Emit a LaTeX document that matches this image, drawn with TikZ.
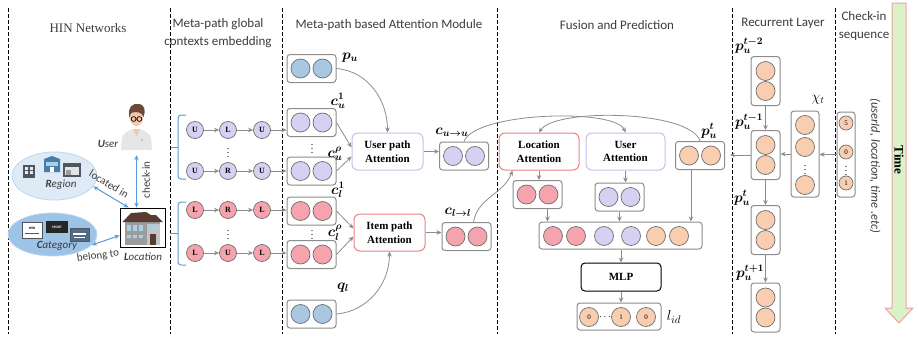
\documentclass[tikz,border=0pt]{standalone}
\usepackage{fontspec}
\usepackage{bm}
\setmainfont{Liberation Serif}
\setsansfont{Carlito}
\usetikzlibrary{arrows.meta,positioning,shapes.geometric}

\definecolor{pathblue}{HTML}{A9C6E3}
\definecolor{lav}{HTML}{D5D1F2}
\definecolor{pink}{HTML}{F5A3AC}
\definecolor{peach}{HTML}{F9CDB0}
\definecolor{unitgray}{HTML}{6E6E6E}
\definecolor{boxgray}{HTML}{8C8C8C}
\definecolor{linkblue}{HTML}{5B9BD5}
\definecolor{attuser}{HTML}{C6BFEC}
\definecolor{attitem}{HTML}{EE7F87}
\definecolor{timegreen}{HTML}{DAF2C8}
\definecolor{timered}{HTML}{F2A0A4}
\definecolor{titlegray}{HTML}{3C3C3C}
\definecolor{regionfill}{HTML}{DEEAF6}
\definecolor{regionedge}{HTML}{BDD7EE}
\definecolor{catfill}{HTML}{9DC3E6}
\definecolor{skin}{HTML}{F4C7A8}
\definecolor{hairbrown}{HTML}{6B4A3A}
\definecolor{coatgray}{HTML}{E4E6E8}
\definecolor{roofbrown}{HTML}{5A3B30}
\definecolor{wallgray}{HTML}{9A9DA0}
\definecolor{winblue}{HTML}{A8D2E2}
\definecolor{bldgdark}{HTML}{4F5660}

% two-unit embedding, side by side
\newcommand{\hvec}[3]{%
  \node[vecbox, minimum width=49pt, minimum height=28pt] (#1) at (#2) {};
  \node[unit, fill=#3] (#1a) at ([xshift=-11pt]#1.center) {};
  \node[unit, fill=#3] (#1b) at ([xshift=11pt]#1.center) {};}
% two-unit hidden state, stacked
\newcommand{\vvec}[2]{%
  \node[vecbox, minimum width=29pt, minimum height=49pt] (#1) at (#2) {};
  \node[unit, fill=peach] (#1a) at ([yshift=10pt]#1.center) {};
  \node[unit, fill=peach] (#1b) at ([yshift=-10pt]#1.center) {};}

\begin{document}
\begin{tikzpicture}[x=1pt, y=-1pt,
  every node/.style={inner sep=0pt},
  unit/.style={circle, draw=unitgray, line width=0.7pt, minimum size=19pt},
  mp/.style={circle, draw=unitgray, line width=0.7pt, minimum size=17pt, font=\bfseries\fontsize{8}{8}\selectfont},
  vecbox/.style={draw=boxgray, rounded corners=3pt, line width=1pt},
  attbox/.style={rounded corners=6pt, line width=1pt, align=center, minimum height=37pt, font=\bfseries\fontsize{11}{13.5}\selectfont},
  flow/.style={draw=boxgray, line width=0.8pt, -{Stealth[length=5pt,width=4.5pt]}},
  link/.style={draw=linkblue, line width=1pt, {Stealth[length=5pt,width=4.5pt]}-{Stealth[length=5pt,width=4.5pt]}},
  sect/.style={draw=black, line width=1pt, dash pattern=on 4pt off 2pt},
  coltitle/.style={font=\sffamily\fontsize{13}{18}\selectfont, align=center, text=titlegray},
  symb/.style={font=\fontsize{14}{16}\selectfont},
  hin/.style={font=\sffamily\fontsize{11}{13}\selectfont, text=titlegray},
  brace/.style={draw=linkblue, line width=1pt, rounded corners=3pt},
]
\useasboundingbox (0,0) rectangle (919,340);

% column borders
\foreach \x in {8,170,282,497,732,835}
  \draw[sect] (\x,8) -- (\x,334);

% column titles
\node[coltitle, font=\rmfamily\fontsize{13}{15}\selectfont] (hinttl) at (88,28) {HIN Networks};
\node[coltitle] (mgttl) at (218,33) {Meta-path global\\contexts embedding};
\node[coltitle] (attttl) at (389,25) {Meta-path based Attention Module};
\node[coltitle] (fusttl) at (617,25) {Fusion and Prediction};
\node[coltitle] (recttl) at (783,23) {Recurrent Layer};
\node[coltitle] (seqttl) at (864,26) {Check-in\\sequence};

% time axis
\draw[draw=timered, fill=timegreen, line width=1pt] (892,3) -- (906,3) -- (906,308) -- (913,308)
  -- (899,323) -- (885,308) -- (892,308) -- cycle;
\node[rotate=-90, font=\bfseries\fontsize{13}{15}\selectfont] (time) at (899,160) {Time};
\node[rotate=-90, font=\sffamily\itshape\fontsize{12.5}{14}\selectfont, text=titlegray] (fields) at (875,166) {(userId, location, time .etc)};

%% HIN networks
\node[minimum width=33pt, minimum height=42pt] (user) at (136.5,129) {};
\fill[coatgray] (121,150) -- (122,138) .. controls (123,133) and (128,131) .. (133,129) -- (140,129)
  .. controls (145,131) and (150,133) .. (151,138) -- (152,150) -- cycle;
\fill[skin] (133,129) -- (136.5,137) -- (140,129) -- cycle;
\fill[linkblue!60] (142,140) circle (1.2pt);
\fill[skin] (136.5,118) ellipse (6.5pt and 8pt);
\fill[hairbrown] (129.5,118) .. controls (127,106) and (134,103) .. (138,104)
  .. controls (145,104) and (146,111) .. (143.5,117) .. controls (142,112) and (136,111) .. (131,113) -- cycle;
\draw[black, line width=0.7pt] (133.6,119) circle (2.4pt) (139.4,119) circle (2.4pt) (136,119) -- (137,119);
\node[hin, font=\sffamily\itshape\fontsize{11}{13}\selectfont] (usertxt) at (108,144) {\textbf{U}ser};

\node[draw=black, line width=0.9pt, minimum width=45pt, minimum height=39pt] (loc) at (142.5,227.5) {};
\fill[wallgray] (125,221) rectangle (160,245);
\fill[wallgray!60!white] (147,224) rectangle (160,245);
\fill[roofbrown] (122.5,222) -- (131,213) -- (146,212) -- (151,215) -- (156,215) -- (163,222) -- cycle;
\foreach \wx in {127,133,139} {
  \fill[winblue] (\wx,225) rectangle ++(4,6);
  \fill[winblue] (\wx,235) rectangle ++(4,3);
}
\fill[winblue] (149,226) rectangle ++(9,4);
\fill[roofbrown] (150,234) rectangle (156,245);
\node[hin, font=\sffamily\itshape\fontsize{11}{13}\selectfont] (loctxt) at (143,257) {\textbf{L}ocation};

\node[ellipse, draw=regionedge, fill=regionfill, line width=0.8pt, minimum width=85pt, minimum height=48pt] (region) at (54.5,176) {};
\fill[bldgdark] (23,165) rectangle (35,178);
\foreach \wx/\wy in {25/167, 30/167, 25/171, 30/171} \fill[white!85!gray] (\wx,\wy) rectangle ++(3,2.5);
\fill[linkblue!80!black] (44,159) -- (52,156) -- (60,159) -- (60,172) -- (44,172) -- cycle;
\fill[winblue] (46,162) rectangle (58,166);
\fill[white] (50,167) rectangle (54,172);
\fill[bldgdark] (63,163) rectangle (81,177);
\fill[white!80!gray] (65,167) rectangle (79,175);
\fill[wallgray] (66,170) rectangle (71,175);
\node[hin, font=\sffamily\itshape\fontsize{11}{13}\selectfont] (regtxt) at (61,185) {\textbf{R}egion};

\node[ellipse, draw=regionedge, fill=catfill, line width=0.8pt, minimum width=89pt, minimum height=43pt] (category) at (52.5,234.5) {};
\filldraw[draw=bldgdark, fill=white, line width=0.8pt] (22,222) rectangle (42,238);
\node[font=\sffamily\bfseries\fontsize{3.5}{4}\selectfont] (winsign) at (32,228) {WIN};
\draw[bldgdark, line width=0.6pt] (25,233) -- (39,233);
\fill[black!85] (46,221) rectangle (68,233);
\node[font=\sffamily\bfseries\fontsize{3.5}{4}\selectfont, text=white] (sportsign) at (57,227) {SPORT};
\filldraw[draw=bldgdark, fill=bldgdark!70!linkblue, line width=0.8pt] (70,228) rectangle (89,241);
\fill[white] (73,233) rectangle (86,235);
\draw[white, line width=0.5pt] (74,237.5) -- (85,237.5);
\node[hin, font=\sffamily\itshape\fontsize{11}{13}\selectfont] (cattxt) at (57,246) {\textbf{C}ategory};

\draw[link, shorten <=5pt] (user.south) -- (user.south |- loc.north);
\node[hin, rotate=90] (checkin) at (146,180) {check-in};
\draw[link] (region.-15) -- ([xshift=9pt]loc.north west);
\node[hin, rotate=-31] (locatedin) at (109,184) {located in};
\draw[link] (category.-15) -- ([yshift=-8pt]loc.west);
\node[hin, rotate=8] (belongto) at (98,256) {belong to};

%% meta-path instances
\foreach \row/\y/\a/\b/\c/\col in {u1/130/U/L/U/lav, u2/171/U/R/U/lav, l1/210/L/R/L/pink, l2/253/L/U/L/pink} {
  \node[mp, fill=\col] (\row-1) at (195,\y) {\a};
  \node[mp, fill=\col] (\row-2) at (228,\y) {\b};
  \node[mp, fill=\col] (\row-3) at (262,\y) {\c};
  \draw[flow] (\row-1) -- (\row-2);
  \draw[flow] (\row-2) -- (\row-3);
}
\node (mpdots1) at (228,150) {$\vdots$};
\node (mpdots2) at (228,232) {$\vdots$};
\draw[brace] (186,115) -- (178,115) -- (178,179) -- (186,179);
\draw[brace] (178,147) -- (171,147);
\draw[brace] (186,202) -- (178,202) -- (178,265) -- (186,265);
\draw[brace] (178,233) -- (170,233);

%% meta-path based attention
\hvec{pu}{311.5,68.5}{pathblue}
\hvec{cu1}{311.5,122.5}{lav}
\hvec{cur}{311.5,171}{lav}
\hvec{cl1}{311.5,211}{pink}
\hvec{clr}{311.5,254.5}{pink}
\hvec{ql}{311.5,314}{pathblue}
\node (cudots) at (312,146) {$\vdots$};
\node (cldots) at (312,232) {$\vdots$};

\node[symb] (lpu) at (350,58) {$\bm{p_u}$};
\node[symb] (lcu1) at (338,101) {$\bm{c_u^1}$};
\node[symb] (lcur) at (335,154) {$\bm{c_u^{\rho}}$};
\node[symb] (lcl1) at (338,190) {$\bm{c_l^1}$};
\node[symb] (lclr) at (335,233) {$\bm{c_l^{\rho}}$};
\node[symb] (lql) at (343,288) {$\bm{q_l}$};

\foreach \from/\to in {u1-3/cu1, u2-3/cur, l1-3/cl1, l2-3/clr}
  \draw[flow] (\from) -- (\from -| \to.west);

\node[attbox, draw=attuser, minimum width=71pt] (upa) at (387.5,151.5) {User path\\Attention};
\node[attbox, draw=attitem, minimum width=71pt] (ipa) at (389.5,232.5) {Item path\\Attention};
\draw[flow] (cu1.east) -- ([yshift=4pt]upa.west);
\draw[flow] (cur.east) -- ([yshift=-5pt]upa.west);
\draw[flow] (cl1.east) -- ([yshift=4pt]ipa.west);
\draw[flow] (clr.east) -- ([yshift=-4pt]ipa.west);
\draw[flow] (pu.east) to[out=-5, in=90] (upa.north);
\draw[flow] (ql.east) to[out=5, in=-90] (ipa.south);

\hvec{cuu}{464,156}{lav}
\hvec{cll}{466.5,236.5}{pink}
\node[symb] (lcuu) at (452,132) {$\bm{c_{u\to u}}$};
\node[symb] (lcll) at (458,212) {$\bm{c_{l\to l}}$};
\draw[flow] (upa.east) -- (upa.east -| cuu.west);
\draw[flow] (ipa.east) -- (ipa.east -| cll.west);

%% fusion and prediction
\node[attbox, draw=attitem, minimum width=80pt] (la) at (539,151.5) {Location\\Attention};
\node[attbox, draw=attuser, minimum width=79pt] (ua) at (625.5,151.5) {User\\Attention};
\hvec{lpair}{537.5,194.5}{pink}
\hvec{upair}{619.5,197}{lav}
\hvec{put}{700,155.5}{peach}
\node[symb] (lput) at (709,131) {$\bm{p_u^t}$};

\node[vecbox, minimum width=163pt, minimum height=27pt] (fuse) at (620.5,235.5) {};
\foreach \x/\c [count=\i] in {553/pink, 576/pink, 604/lav, 631/lav, 656/peach, 679/peach}
  \node[unit, fill=\c] (fuse\i) at (\x,236) {};

\node[draw=black, rounded corners=4pt, line width=1pt, minimum width=80pt, minimum height=28pt,
  font=\bfseries\fontsize{11}{13}\selectfont] (mlp) at (621,277) {MLP};
\node[vecbox, minimum width=84pt, minimum height=27pt] (out) at (619,316.5) {};
\foreach \x/\v [count=\i] in {589/0, 621/1, 646/0}
  \node[unit, fill=peach, font=\fontsize{7}{7}\selectfont] (out\i) at (\x,317) {\v};
\node (outdots) at (605,317) {$\cdots$};
\node[font=\fontsize{15}{17}\selectfont] (lid) at (674,317) {$l_{id}$};

\draw[flow] (cuu.north) .. controls (475,112) and (615,108) .. (ua.north);
\draw[flow] (put.north) .. controls (690,110) and (555,108) .. (la.north);
\draw[flow] ([xshift=7pt]cll.north) to[out=80, in=-110] ([xshift=14pt]la.south west);
\draw[flow] (la.south) -- (la.south |- lpair.north);
\draw[flow] (ua.south) -- (ua.south |- upair.north);
\draw[flow] ([xshift=10pt]lpair.south) -- ([xshift=10pt]lpair.south |- fuse.north);
\draw[flow] (upair.south) -- (upair.south |- fuse.north);
\draw[flow] ([xshift=-9pt]put.south) -- ([xshift=-9pt]put.south |- fuse.north);
\draw[flow] (fuse.south -| mlp.north) -- (mlp.north);
\draw[flow] (mlp.south) -- (mlp.south |- out.north);

%% recurrent layer
\vvec{rt1}{765.5,81}
\vvec{rt2}{765.5,155}
\vvec{rt3}{765.5,230}
\vvec{rt4}{765.5,307.5}
\node[symb] (lrt1) at (749,46) {$\bm{p_u^{t-2}}$};
\node[symb] (lrt2) at (749,122) {$\bm{p_u^{t-1}}$};
\node[symb] (lrt3) at (742,198) {$\bm{p_u^{t}}$};
\node[symb] (lrt4) at (750,273) {$\bm{p_u^{t+1}}$};
\foreach \from/\to in {rt1/rt2, rt2/rt3, rt3/rt4}
  \draw[flow] (\from.south) -- (\to.north);

\node[vecbox, minimum width=28pt, minimum height=86pt] (xt) at (805,154) {};
\foreach \y [count=\i] in {125,147,185}
  \node[unit, fill=peach] (xt\i) at (805,\y) {};
\node (xtdots) at (805,167) {$\vdots$};
\node[symb] (lxt) at (818,100) {$\chi_t$};

%% check-in sequence
\node[vecbox, minimum width=18pt, minimum height=85pt] (seq) at (846,154.5) {};
\foreach \v/\y in {5/123, 0/152, 1/183}
  \node[unit, fill=peach, minimum size=14pt, font=\fontsize{7}{7}\selectfont] (seq\v) at (846,\y) {\v};
\node (seqdots) at (846,168) {$\vdots$};

\draw[flow] (seq.west) -- (seq.west -| xt.east);
\draw[flow] (xt.west) -- (xt.west -| rt2.east);
\draw[flow, shorten >=5pt] (rt2.west) -- (rt2.west -| put.east);
\end{tikzpicture}
\end{document}
